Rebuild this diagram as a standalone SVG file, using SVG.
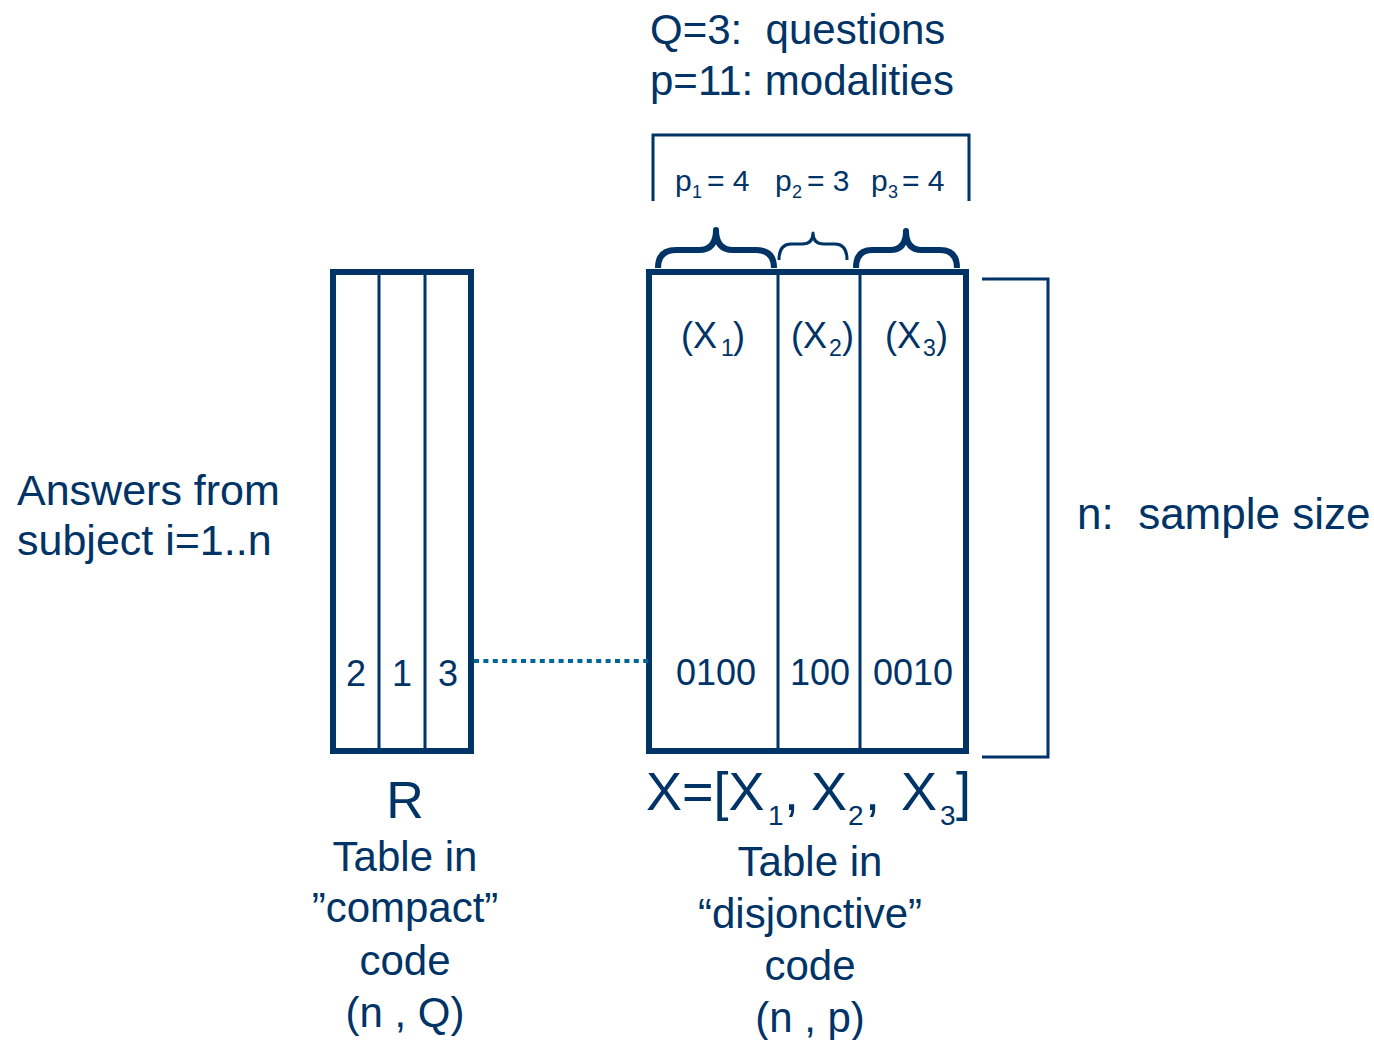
<svg xmlns="http://www.w3.org/2000/svg" width="1374" height="1040" viewBox="0 0 1374 1040">
  <style>
    text { font-family: "Liberation Sans", Arial, sans-serif; fill: #003366; }
    .big { font-size: 42px; }
    .mid { font-size: 36px; }
    .frame { fill: none; stroke: #003366; stroke-width: 6; }
    .sep { stroke: #003366; stroke-width: 3; }
    .thin { fill: none; stroke: #003366; stroke-width: 3; }
    .brace { fill: none; stroke: #003366; stroke-linejoin: round; }
  </style>
  <rect width="1374" height="1040" fill="#ffffff"/>

  <!-- header -->
  <g id="header">
    <text class="big" x="650" y="44" xml:space="preserve">Q=3:  questions</text>
    <text class="big" x="650" y="95">p=11: modalities</text>
  </g>

  <!-- modality counts bracket -->
  <g id="counts">
    <path class="thin" d="M653,201 V135 H969 V201"/>
    <text font-size="30" y="191"><tspan x="675">p</tspan><tspan x="692" y="198" font-size="18">1</tspan><tspan x="707" y="191">= 4</tspan></text>
    <text font-size="30" y="191"><tspan x="775">p</tspan><tspan x="792" y="198" font-size="18">2</tspan><tspan x="807" y="191">= 3</tspan></text>
    <text font-size="30" y="191"><tspan x="871">p</tspan><tspan x="888" y="198" font-size="18">3</tspan><tspan x="902" y="191">= 4</tspan></text>
  </g>

  <!-- braces over the blocks -->
  <g id="braces">
    <path class="brace" stroke-width="6" d="M658,268 Q658,250 676,250 L699,250 Q716,250 716,230 Q716,250 733,250 L756,250 Q774,250 774,268"/>
    <path class="brace" stroke-width="3" d="M779,260 Q779,244 791,244 L802,244 Q813,244 813,233 Q813,244 824,244 L835,244 Q847,244 847,260"/>
    <path class="brace" stroke-width="6" d="M856,268 Q856,250 872,250 L890,250 Q906,250 906,231 Q906,250 922,250 L940,250 Q957,250 957,268"/>
  </g>

  <!-- compact table R -->
  <g id="table-r">
    <rect class="frame" x="333" y="272" width="138" height="479"/>
    <line class="sep" x1="379" y1="272" x2="379" y2="751"/>
    <line class="sep" x1="425" y1="272" x2="425" y2="751"/>
    <text class="mid" x="356" y="686" text-anchor="middle">2</text>
    <text class="mid" x="402" y="686" text-anchor="middle">1</text>
    <text class="mid" x="448" y="686" text-anchor="middle">3</text>
  </g>

  <!-- disjunctive table X -->
  <g id="table-x">
    <rect class="frame" x="649" y="272" width="317" height="479"/>
    <line class="sep" x1="778" y1="272" x2="778" y2="751"/>
    <line class="sep" x1="860" y1="272" x2="860" y2="751"/>
    <text font-size="36" y="348"><tspan x="681">(X</tspan><tspan x="721" y="356" font-size="23">1</tspan><tspan x="733" y="348">)</tspan></text>
    <text font-size="36" y="348"><tspan x="791">(X</tspan><tspan x="829" y="356" font-size="23">2</tspan><tspan x="842" y="348">)</tspan></text>
    <text font-size="36" y="348"><tspan x="885">(X</tspan><tspan x="923" y="356" font-size="23">3</tspan><tspan x="936" y="348">)</tspan></text>
    <text class="mid" x="676" y="685">0100</text>
    <text class="mid" x="790" y="685">100</text>
    <text class="mid" x="873" y="685">0010</text>
  </g>

  <!-- sample-size bracket -->
  <g id="sample-size">
    <path class="thin" d="M982,279 H1048 V757 H982"/>
    <text font-size="44" x="1077" y="529" xml:space="preserve">n:  sample size</text>
  </g>

  <!-- row label -->
  <g id="answers">
    <text font-size="43" x="17" y="505">Answers from</text>
    <text font-size="43" x="17" y="555">subject i=1..n</text>
  </g>

  <!-- captions -->
  <g id="caption-r">
    <text font-size="52" x="405" y="818" text-anchor="middle">R</text>
    <text class="big" x="405" y="871" text-anchor="middle">Table in</text>
    <text class="big" x="405" y="922" text-anchor="middle">”compact”</text>
    <text class="big" x="405" y="975" text-anchor="middle">code</text>
    <text class="big" x="405" y="1027" text-anchor="middle">(n , Q)</text>
  </g>
  <g id="caption-x">
    <text font-size="54" y="810"><tspan x="646">X=[X</tspan><tspan x="768" y="825" font-size="28">1</tspan><tspan x="784" y="810">,</tspan><tspan x="811">X</tspan><tspan x="848" y="825" font-size="28">2</tspan><tspan x="865" y="810">,</tspan><tspan x="901">X</tspan><tspan x="940" y="825" font-size="28">3</tspan><tspan x="956" y="810">]</tspan></text>
    <text class="big" x="810" y="876" text-anchor="middle">Table in</text>
    <text class="big" x="810" y="928" text-anchor="middle">“disjonctive”</text>
    <text class="big" x="810" y="980" text-anchor="middle">code</text>
    <text class="big" x="810" y="1032" text-anchor="middle">(n , p)</text>
  </g>

  <!-- link between the two rows -->
  <g id="connectors">
    <line x1="474" y1="661" x2="648" y2="661" stroke="#006699" stroke-width="4" stroke-dasharray="5 4.4"/>
  </g>
</svg>
